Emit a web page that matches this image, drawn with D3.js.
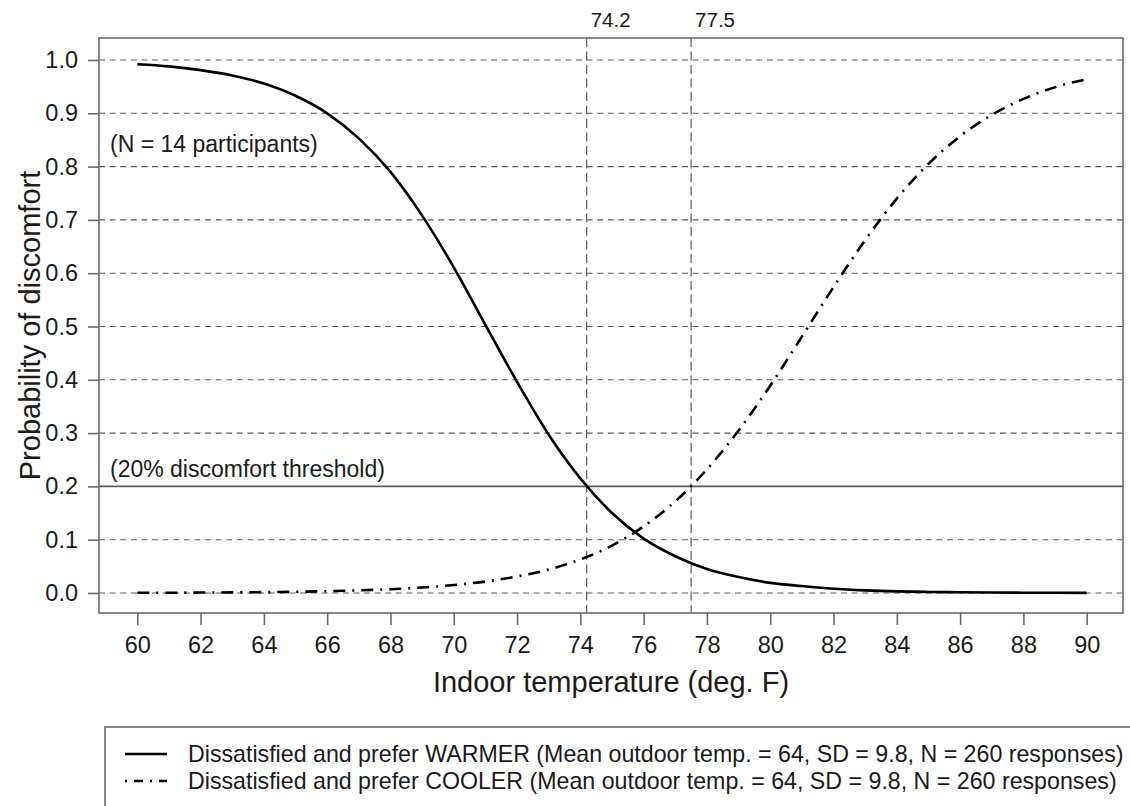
<!DOCTYPE html>
<html>
<head>
<meta charset="utf-8">
<script src="https://cdn.jsdelivr.net/npm/d3@7"></script>
<style>
  body { margin: 0; background: #fff; }
  svg { display: block; font-family: "Liberation Sans", Arial, Helvetica, sans-serif; }
</style>
</head>
<body>
<div id="container"></div>
<script>
// temperaturas (deg. F) y probabilidades
var temps = [60, 61, 62, 63, 64, 65, 66, 67, 68, 69, 70, 71, 72, 73, 74, 75,
             76, 77, 78, 79, 80, 81, 82, 83, 84, 85, 86, 87, 88, 89, 90];

var warmer = [0.992, 0.988, 0.981, 0.971, 0.956, 0.933, 0.900, 0.853, 0.790, 0.708, 0.611,
              0.503, 0.396, 0.297, 0.215, 0.150, 0.102, 0.069, 0.045, 0.030, 0.019,
              0.013, 0.008, 0.005, 0.003, 0.002, 0.0014, 0.0009, 0.0006, 0.0004, 0.0003];

var cooler = [0.0004, 0.0005, 0.0008, 0.0011, 0.0016, 0.0023, 0.0034, 0.0049, 0.0071, 0.0103, 0.0149,
              0.0215, 0.031, 0.044, 0.063, 0.089, 0.125, 0.172, 0.232, 0.305, 0.389,
              0.481, 0.574, 0.662, 0.740, 0.805, 0.857, 0.897, 0.927, 0.949, 0.964];

var xTicks = [60, 62, 64, 66, 68, 70, 72, 74, 76, 78, 80, 82, 84, 86, 88, 90];
var yTicks = [0.0, 0.1, 0.2, 0.3, 0.4, 0.5, 0.6, 0.7, 0.8, 0.9, 1.0];
var thresholdTemps = [74.2, 77.5];
var thresholdProb = 0.2;

var legendLabels = [
    "Dissatisfied and prefer WARMER (Mean outdoor temp. = 64, SD = 9.8, N = 260 responses)",
    "Dissatisfied and prefer COOLER (Mean outdoor temp. = 64, SD = 9.8, N = 260 responses)"
];

// tamaño y margenes
var svgWidth = 1130, svgHeight = 806;
var box = { left: 99, right: 1123, top: 38, bottom: 613 };
var gridColor = "#5a5a5a", boxColor = "#6a6a6a", ink = "#1a1a1a";

var svg = d3.select("#container")
    .append("svg")
    .attr("width", svgWidth)
    .attr("height", svgHeight);

// escalas
var x = d3.scaleLinear().domain([60, 90]).range([137.3, 1086.7]);
var y = d3.scaleLinear().domain([0, 1]).range([593, 60]);

// lineas de grilla horizontales (la de 0.2 es solida)
svg.append("g").selectAll("line")
    .data(yTicks)
    .enter().append("line")
    .attr("x1", box.left).attr("x2", box.right)
    .attr("y1", function (d) { return y(d); })
    .attr("y2", function (d) { return y(d); })
    .attr("stroke", gridColor)
    .attr("stroke-width", function (d) { return d === thresholdProb ? 1.6 : 1.1; })
    .attr("stroke-dasharray", function (d) { return d === thresholdProb ? null : "6,4.6"; });

// lineas verticales de umbral
svg.append("g").selectAll("line")
    .data(thresholdTemps)
    .enter().append("line")
    .attr("x1", function (d) { return x(d); })
    .attr("x2", function (d) { return x(d); })
    .attr("y1", box.top).attr("y2", box.bottom)
    .attr("stroke", gridColor)
    .attr("stroke-width", 1.2)
    .attr("stroke-dasharray", "9,4.5");

svg.append("g").selectAll("text")
    .data(thresholdTemps)
    .enter().append("text")
    .attr("x", function (d) { return x(d) + 4; })
    .attr("y", 27)
    .attr("font-size", 20.5)
    .attr("fill", ink)
    .text(function (d) { return d3.format(".1f")(d); });

// caja del grafico
svg.append("rect")
    .attr("x", box.left).attr("y", box.top)
    .attr("width", box.right - box.left)
    .attr("height", box.bottom - box.top)
    .attr("fill", "none")
    .attr("stroke", boxColor)
    .attr("stroke-width", 1.6);

// ejes
var xAxis = svg.append("g")
    .attr("transform", "translate(0," + box.bottom + ")")
    .call(d3.axisBottom(x).tickValues(xTicks).tickSize(12).tickPadding(11).tickFormat(d3.format("d")));

var yAxis = svg.append("g")
    .attr("transform", "translate(" + box.left + ",0)")
    .call(d3.axisLeft(y).tickValues(yTicks).tickSize(11).tickPadding(10).tickFormat(d3.format(".1f")));

[xAxis, yAxis].forEach(function (g) {
    g.select(".domain").remove();
    g.selectAll(".tick line").attr("stroke", boxColor).attr("stroke-width", 1.6);
    g.selectAll(".tick text")
        .attr("font-size", 23.5)
        .attr("font-family", "Liberation Sans, Arial, Helvetica, sans-serif")
        .attr("fill", ink);
});

// curvas
var line = d3.line()
    .x(function (d) { return x(d[0]); })
    .y(function (d) { return y(d[1]); })
    .curve(d3.curveMonotoneX);

svg.append("path")
    .datum(d3.zip(temps, warmer))
    .attr("d", line)
    .attr("fill", "none")
    .attr("stroke", "#000")
    .attr("stroke-width", 2.6);

svg.append("path")
    .datum(d3.zip(temps, cooler))
    .attr("d", line)
    .attr("fill", "none")
    .attr("stroke", "#000")
    .attr("stroke-width", 2.6)
    .attr("stroke-dasharray", "12,7,2,7");

// anotaciones
svg.append("text")
    .attr("x", 110).attr("y", 152)
    .attr("font-size", 23).attr("fill", ink)
    .text("(N = 14 participants)");

svg.append("text")
    .attr("x", 110).attr("y", 477)
    .attr("font-size", 23).attr("fill", ink)
    .text("(20% discomfort threshold)");

// titulos de ejes
svg.append("text")
    .attr("x", (box.left + box.right) / 2)
    .attr("y", 692)
    .attr("text-anchor", "middle")
    .attr("font-size", 29).attr("fill", ink)
    .text("Indoor temperature (deg. F)");

svg.append("text")
    .attr("transform", "translate(40," + (box.top + box.bottom) / 2 + ") rotate(-90)")
    .attr("text-anchor", "middle")
    .attr("font-size", 29).attr("fill", ink)
    .text("Probability of discomfort");

// leyenda
var legend = svg.append("g");
legend.append("rect")
    .attr("x", 105).attr("y", 727)
    .attr("width", 1060).attr("height", 120)
    .attr("fill", "none")
    .attr("stroke", boxColor)
    .attr("stroke-width", 1.6);

var legendRow = legend.selectAll(".row")
    .data(legendLabels)
    .enter().append("g")
    .attr("class", "row")
    .attr("transform", function (d, i) { return "translate(0," + (762 + i * 27) + ")"; });

legendRow.append("line")
    .attr("x1", 125).attr("x2", 167)
    .attr("y1", -8).attr("y2", -8)
    .attr("stroke", "#000")
    .attr("stroke-width", 2.4)
    .attr("stroke-dasharray", function (d, i) { return i === 0 ? null : "2,7,9,7"; });

legendRow.append("text")
    .attr("x", 188).attr("y", 0)
    .attr("font-size", 23.2).attr("fill", ink)
    .text(function (d) { return d; });
</script>
</body>
</html>
